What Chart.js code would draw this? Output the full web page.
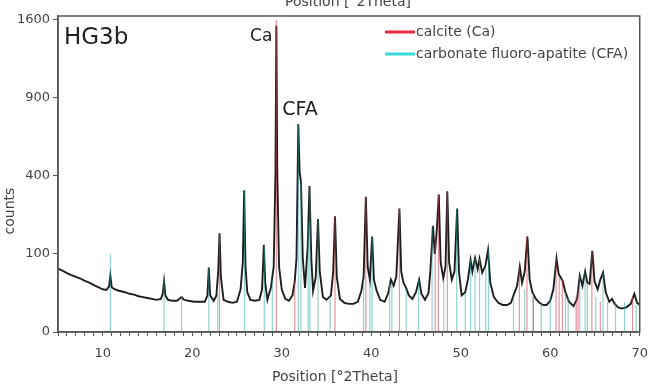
<!DOCTYPE html>
<html>
<head>
<meta charset="utf-8">
<script src="https://cdn.jsdelivr.net/npm/chart.js@4.4.1/dist/chart.umd.min.js"></script>
<style>
  html, body { margin: 0; padding: 0; background: #fff; }
  #wrap { width: 658px; height: 385px; position: relative; }
</style>
</head>
<body>
<div id="wrap"><canvas id="c"></canvas></div>
<script>
// ---- data ----
const patternTheta = [5.0,5.5,6.0,6.5,7.0,7.5,8.0,8.5,9.0,9.5,10.0,10.4,10.7,10.85,11.0,11.3,11.8,12.5,13.0,13.5,14.0,14.5,15.0,15.5,16.0,16.5,16.7,16.85,17.0,17.3,17.8,18.3,18.8,19.1,19.6,20.2,20.8,21.4,21.7,21.85,22.0,22.4,22.7,22.9,23.05,23.2,23.5,24.0,24.5,25.0,25.4,25.65,25.8,25.95,26.15,26.5,27.0,27.5,27.8,28.0,28.15,28.4,28.8,29.1,29.3,29.4,29.5,29.7,30.0,30.4,30.8,31.2,31.45,31.65,31.85,32.0,32.15,32.35,32.6,32.9,33.1,33.3,33.5,33.8,34.05,34.25,34.6,35.0,35.5,35.75,35.95,36.15,36.5,37.0,37.5,38.0,38.5,38.9,39.15,39.4,39.6,39.85,40.1,40.3,40.6,41.0,41.5,41.9,42.2,42.5,42.8,43.15,43.35,43.6,43.9,44.2,44.6,45.0,45.35,45.6,46.0,46.4,46.6,46.9,47.1,47.3,47.55,47.75,48.05,48.3,48.5,48.7,49.0,49.3,49.6,49.8,50.1,50.5,50.8,51.1,51.3,51.6,51.9,52.1,52.4,52.75,53.05,53.3,53.7,54.2,54.7,55.2,55.6,55.9,56.3,56.6,56.85,57.15,57.45,57.7,58.0,58.4,58.8,59.2,59.6,60.0,60.35,60.7,60.95,61.2,61.4,61.7,62.1,62.6,63.0,63.3,63.6,63.9,64.15,64.4,64.7,64.95,65.3,65.6,65.9,66.2,66.6,66.9,67.2,67.6,68.0,68.5,69.0,69.4,69.7,70.0];
const patternCounts = [66,62,57,53,50,47,43,40,36,33,30,29,34,52,33,30,28,26,24,23,21,20,19,18,17,18,24,42,22,17,16,16,20,17,16,15,15,15,22,68,22,16,22,60,160,50,17,15,14,15,30,80,330,70,26,17,16,17,30,125,40,17,33,70,420,1540,420,70,30,18,16,22,42,90,710,420,370,90,32,120,350,90,28,50,210,60,20,17,22,60,220,50,18,14,13,13,15,28,50,300,70,45,150,45,28,17,15,25,45,35,50,250,60,40,32,22,18,26,45,24,17,25,60,185,100,160,310,80,48,70,325,80,45,60,250,60,22,26,45,85,60,90,65,88,58,72,110,40,20,14,12,12,14,22,35,70,40,60,150,45,26,18,14,12,12,16,30,88,55,48,42,26,15,11,18,52,35,60,40,38,108,42,30,45,58,26,15,18,13,10,9,10,13,24,14,12];

const calciteTheta  = [23.05,29.4,31.45,35.95,39.4,43.15,47.15,47.5,48.5,56.55,57.4,58.1,60.65,61.0,61.35,62.9,63.1,64.65,65.6,69.2];
const calciteHeight = [160,1600,42,220,300,250,150,310,325,70,150,20,88,50,45,20,30,108,15,20];

const cfaTheta  = [10.85,16.85,18.8,21.85,22.85,25.85,28.05,28.95,31.85,32.15,32.95,33.15,34.05,35.4,39.15,39.85,40.1,42.05,42.3,43.9,45.3,46.8,48.1,49.55,50.5,51.1,51.6,52.1,52.8,53.1,55.9,57.15,58.1,59.0,60.0,61.7,62.0,63.3,63.9,64.15,65.1,65.9,66.4,67.3,68.3,69.6];
const cfaHeight = [100,45,22,68,25,330,125,45,710,370,200,345,210,20,45,40,150,45,40,30,45,185,45,250,25,85,90,88,70,110,20,30,25,15,20,25,20,52,60,40,20,58,15,15,15,12];

const yTickValues = [0,100,400,900,1600];
const xTickLabels = [10,20,30,40,50,60,70];

// ---- square-root scale ----
class SqrtScale extends Chart.LinearScale {
  getPixelForValue(value) {
    if (value === null || value === undefined || isNaN(value)) return NaN;
    const a = Math.sqrt(Math.max(this.min, 0)), b = Math.sqrt(this.max);
    return this.getPixelForDecimal((Math.sqrt(Math.max(value, 0)) - a) / (b - a));
  }
  getValueForPixel(pixel) {
    const a = Math.sqrt(Math.max(this.min, 0)), b = Math.sqrt(this.max);
    const s = a + this.getDecimalForPixel(pixel) * (b - a);
    return s * s;
  }
}
SqrtScale.id = 'sqrt';
SqrtScale.defaults = Chart.LinearScale.defaults;
Chart.register(SqrtScale);

// ---- build datasets ----
const pattern = patternTheta.map((t, i) => ({x: t, y: patternCounts[i]}));
function sticks(pos, h) {
  const out = [];
  pos.forEach((p, i) => { out.push({x: p, y: 0}, {x: p, y: h[i]}, {x: p, y: null}); });
  return out;
}

const FONT = 'DejaVu Sans';
const TXT = '#444';

const annot = {
  id: 'annot',
  afterDraw(chart) {
    const ctx = chart.ctx, a = chart.chartArea;
    const xs = chart.scales.x;
    ctx.save();
    // frame
    ctx.strokeStyle = '#555';
    ctx.lineWidth = 1.5;
    ctx.strokeRect(a.left, a.top, a.right - a.left, a.bottom - a.top);

    ctx.fillStyle = TXT;
    ctx.textBaseline = 'middle';
    ctx.textAlign = 'center';
    ctx.font = '14px "' + FONT + '"';
    ctx.fillText('Position [°2Theta]', 348, 2);
    ctx.fillText('Position [°2Theta]', 335, 377);
    ctx.save();
    ctx.translate(10, 211);
    ctx.rotate(-Math.PI / 2);
    ctx.fillText('counts', 0, 0);
    ctx.restore();

    ctx.fillStyle = '#222';
    ctx.textAlign = 'left';
    ctx.textBaseline = 'alphabetic';
    ctx.font = '23px "' + FONT + '"';
    ctx.fillText('HG3b', a.left + 6, 44);
    ctx.font = '17px "' + FONT + '"';
    ctx.textAlign = 'right';
    ctx.fillText('Ca', xs.getPixelForValue(29.4) - 4, 41);
    ctx.textAlign = 'left';
    ctx.font = '19px "' + FONT + '"';
    ctx.fillText('CFA', xs.getPixelForValue(31.85) - 16, 115);

    // legend
    ctx.lineWidth = 3;
    ctx.strokeStyle = '#e8283c';
    ctx.beginPath(); ctx.moveTo(385, 32); ctx.lineTo(415, 32); ctx.stroke();
    ctx.strokeStyle = '#3ad8d8';
    ctx.beginPath(); ctx.moveTo(385, 54); ctx.lineTo(415, 54); ctx.stroke();
    ctx.fillStyle = TXT;
    ctx.textBaseline = 'middle';
    ctx.font = '14px "' + FONT + '"';
    ctx.fillText('calcite (Ca)', 416, 32);
    ctx.fillText('carbonate fluoro-apatite (CFA)', 416, 54);
    ctx.restore();
  }
};

new Chart(document.getElementById('c'), {
  type: 'scatter',
  data: {
    datasets: [
      { label: 'calcite (Ca)', data: sticks(calciteTheta, calciteHeight), showLine: true, spanGaps: false,
        borderColor: 'rgba(205,60,80,0.55)', borderWidth: 1.2, pointRadius: 0, order: 0 },
      { label: 'carbonate fluoro-apatite (CFA)', data: sticks(cfaTheta, cfaHeight), showLine: true, spanGaps: false,
        borderColor: 'rgba(40,165,155,0.5)', borderWidth: 1.2, pointRadius: 0, order: 1 },
      { label: 'HG3b', data: pattern, showLine: true, borderColor: '#1e1e1e', borderWidth: 1.9,
        pointRadius: 0, tension: 0, order: 2 }
    ]
  },
  options: {
    responsive: true,
    maintainAspectRatio: false,
    animation: false,
    layout: { padding: { top: 16, right: 10, left: 0, bottom: 0 } },
    plugins: { legend: { display: false }, tooltip: { enabled: false } },
    scales: {
      x: {
        type: 'linear', min: 5, max: 70,
        afterBuildTicks: s => { const t = []; for (let v = 5; v <= 70; v++) t.push({value: v}); s.ticks = t; },
        afterFit: s => { s.height = 53; },
        ticks: { autoSkip: false, maxRotation: 0, padding: 10, color: TXT,
                 font: { family: FONT, size: 13 },
                 callback: v => xTickLabels.includes(v) ? String(v) : '' },
        grid: { drawOnChartArea: false, drawTicks: true, tickLength: 4, tickColor: '#555' },
        border: { display: true, color: '#555', width: 1.5 }
      },
      y: {
        type: 'sqrt', min: 0, max: 1640,
        afterBuildTicks: s => { s.ticks = yTickValues.map(v => ({value: v})); },
        afterFit: s => { s.width = 58; },
        ticks: { padding: 3, color: TXT, font: { family: FONT, size: 13 }, callback: v => String(v) },
        grid: { drawOnChartArea: false, drawTicks: true, tickLength: 5, tickColor: '#555' },
        border: { display: true, color: '#555', width: 1.5 }
      }
    }
  },
  plugins: [annot]
});
</script>
</body>
</html>
